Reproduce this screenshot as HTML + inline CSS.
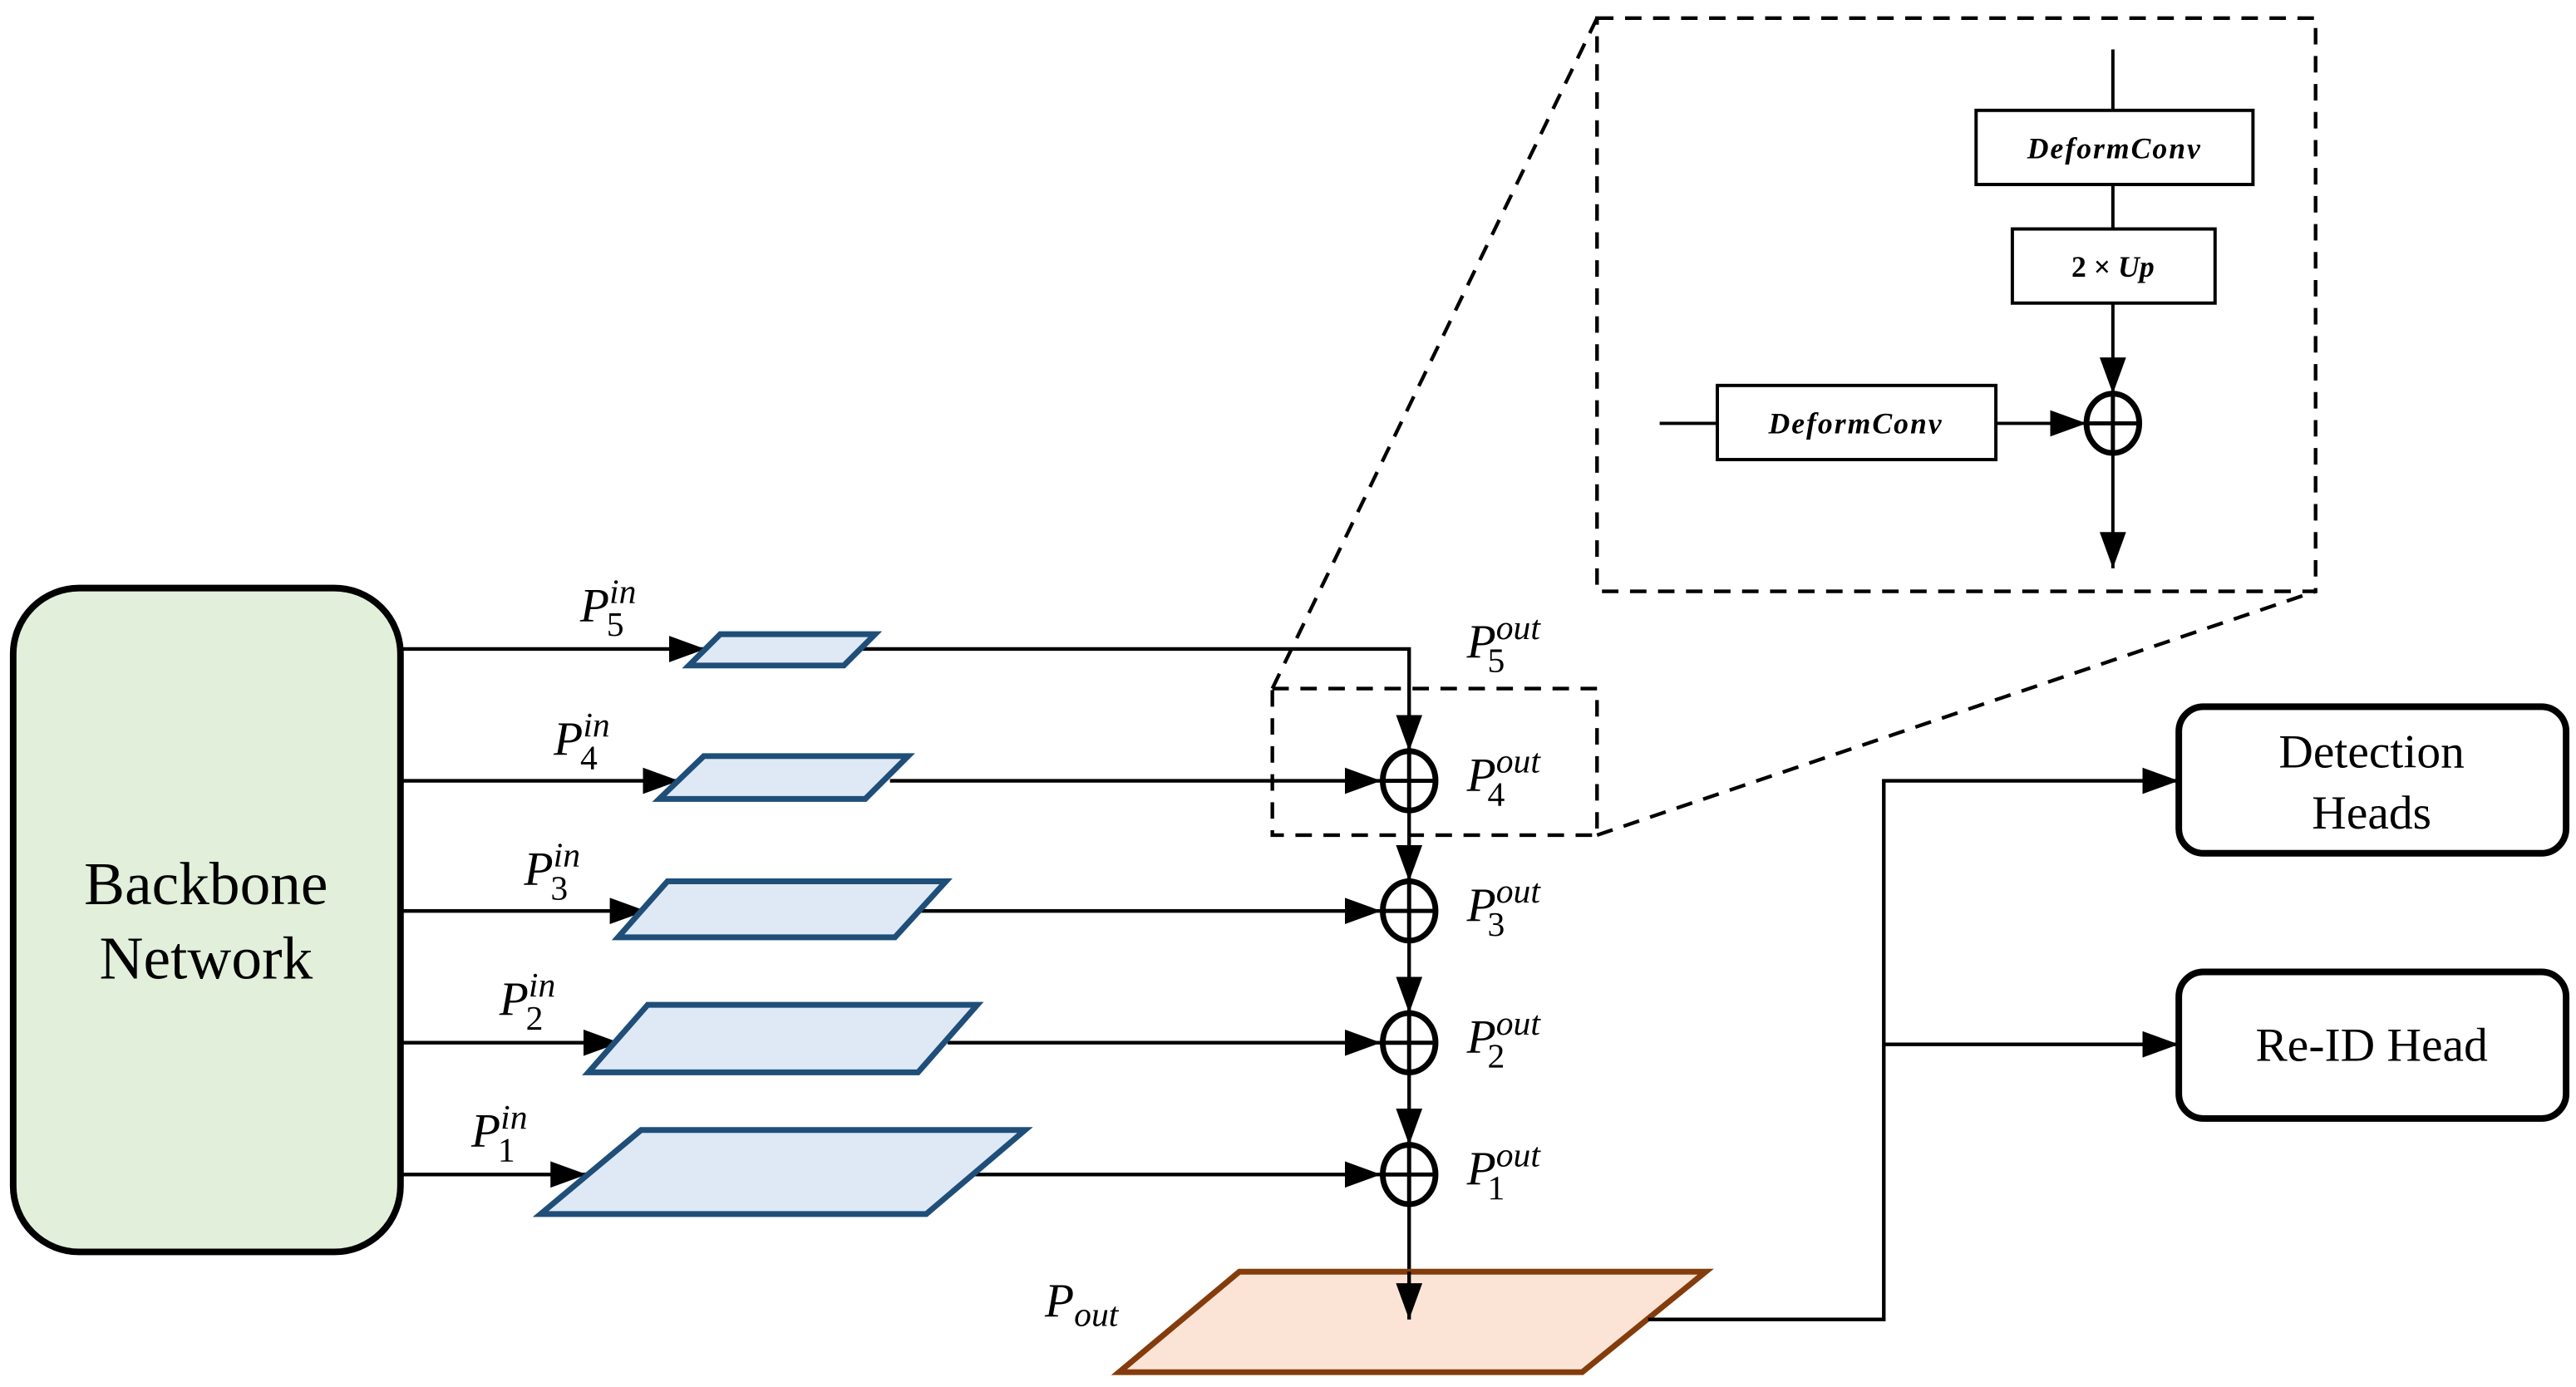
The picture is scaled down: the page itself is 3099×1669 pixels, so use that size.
<!DOCTYPE html>
<html><head><meta charset="utf-8"><style>
html,body{margin:0;padding:0;background:#fff;}
svg{display:block;}
</style></head><body>
<svg width="3099" height="1669" viewBox="0 0 1563 842" preserveAspectRatio="none" xmlns="http://www.w3.org/2000/svg">
<defs>
<marker id="b" markerWidth="22" markerHeight="16" refX="22" refY="8" orient="auto" markerUnits="userSpaceOnUse"><path d="M0,0 L22,8 L0,16 Z" fill="#000"/></marker>
</defs>
<rect width="1563" height="842" fill="#fff"/>
<rect x="8" y="357" width="235" height="403" rx="40" fill="#e2efda" stroke="#000" stroke-width="4"/>
<g font-family="'Liberation Serif', 'DejaVu Serif', serif">
<text x="125" y="549" font-size="37" text-anchor="middle">Backbone</text>
<text x="125" y="594" font-size="37" text-anchor="middle">Network</text>
</g>
<g stroke="#000" stroke-width="2.2" fill="none">
<line x1="243" y1="394" x2="428" y2="394" marker-end="url(#b)"/>
<line x1="243" y1="474" x2="412" y2="474" marker-end="url(#b)"/>
<line x1="243" y1="553" x2="392" y2="553" marker-end="url(#b)"/>
<line x1="243" y1="633" x2="376" y2="633" marker-end="url(#b)"/>
<line x1="243" y1="713" x2="356" y2="713" marker-end="url(#b)"/>
<polyline points="520,394 855,394 855,456" marker-end="url(#b)"/>
<line x1="540" y1="474" x2="838" y2="474" marker-end="url(#b)"/>
<line x1="558" y1="553" x2="838" y2="553" marker-end="url(#b)"/>
<line x1="575" y1="633" x2="838" y2="633" marker-end="url(#b)"/>
<line x1="590" y1="713" x2="838" y2="713" marker-end="url(#b)"/>
<line x1="855" y1="492" x2="855" y2="535" marker-end="url(#b)"/>
<line x1="855" y1="571" x2="855" y2="615" marker-end="url(#b)"/>
<line x1="855" y1="651" x2="855" y2="695" marker-end="url(#b)"/>
<line x1="855" y1="731" x2="855" y2="801" marker-end="url(#b)"/>
</g>
<g fill="#dee9f5" stroke="#1f4e79" stroke-width="3.5">
<polygon points="437,385 531,385 512,404 418,404"/>
<polygon points="427,459 551,459 525,485 400,485"/>
<polygon points="405,535 574,535 543,569 375,569"/>
<polygon points="393,610 593,610 557,651 357,651"/>
<polygon points="389,686 622,686 562,737 328,737"/>
</g>
<polygon points="752,772 1035,772 960,833 679,833" fill="#fbe4d6" stroke="#843c0c" stroke-width="3.5"/>
<line x1="855" y1="772" x2="855" y2="801" stroke="#000" stroke-width="2.2" marker-end="url(#b)"/>
<g stroke="#000" stroke-width="3.5" fill="#fff">
<ellipse cx="855" cy="474" rx="16" ry="18"/>
<ellipse cx="855" cy="553" rx="16" ry="18"/>
<ellipse cx="855" cy="633" rx="16" ry="18"/>
<ellipse cx="855" cy="713" rx="16" ry="18"/>
<ellipse cx="1282" cy="257" rx="16" ry="18"/>
</g>
<g stroke="#000" stroke-width="2.5">
<line x1="839" y1="474" x2="871" y2="474"/><line x1="855" y1="456" x2="855" y2="492"/>
<line x1="839" y1="553" x2="871" y2="553"/><line x1="855" y1="535" x2="855" y2="571"/>
<line x1="839" y1="633" x2="871" y2="633"/><line x1="855" y1="615" x2="855" y2="651"/>
<line x1="839" y1="713" x2="871" y2="713"/><line x1="855" y1="695" x2="855" y2="731"/>
<line x1="1266" y1="257" x2="1298" y2="257"/><line x1="1282" y1="239" x2="1282" y2="275"/>
</g>
<g stroke="#000" stroke-width="2.2" fill="none">
<polyline points="1000,801 1143,801 1143,474 1322,474" marker-end="url(#b)"/>
<line x1="1143" y1="634" x2="1322" y2="634" marker-end="url(#b)"/>
</g>
<rect x="1322" y="429" width="235" height="89" rx="15" fill="#fff" stroke="#000" stroke-width="4"/>
<rect x="1322" y="590" width="235" height="89" rx="15" fill="#fff" stroke="#000" stroke-width="4"/>
<g font-family="'Liberation Serif', 'DejaVu Serif', serif">
<text x="1439" y="466" font-size="29" text-anchor="middle">Detection</text>
<text x="1439" y="503" font-size="29" text-anchor="middle">Heads</text>
<text x="1439" y="644" font-size="29" text-anchor="middle">Re-ID Head</text>
</g>
<g stroke="#000" stroke-width="2.2" fill="none" stroke-dasharray="10,7">
<rect x="772" y="418" width="197" height="89"/>
<rect x="969" y="11" width="436" height="348"/>
<line x1="772" y1="418" x2="969" y2="11"/>
<line x1="969" y1="507" x2="1405" y2="359"/>
</g>
<g stroke="#000" stroke-width="2" fill="none">
<line x1="1282" y1="30" x2="1282" y2="67"/>
<rect x="1199" y="67" width="168" height="45" fill="#fff"/>
<line x1="1282" y1="112" x2="1282" y2="139"/>
<rect x="1221" y="139" width="123" height="45" fill="#fff"/>
<line x1="1282" y1="184" x2="1282" y2="239" marker-end="url(#b)"/>
<line x1="1007" y1="257" x2="1042" y2="257"/>
<rect x="1042" y="234" width="169" height="45" fill="#fff"/>
<line x1="1211" y1="257" x2="1266" y2="257" marker-end="url(#b)"/>
<line x1="1282" y1="275" x2="1282" y2="345" marker-end="url(#b)"/>
</g>
<g font-family="'Liberation Serif', 'DejaVu Serif', serif" font-style="italic" font-weight="bold" font-size="18" text-anchor="middle">
<text x="1283" y="96" letter-spacing="1">DeformConv</text>
<text x="1282" y="168"><tspan font-style="normal">2 × </tspan>Up</text>
<text x="1126" y="263" letter-spacing="1">DeformConv</text>
</g>
<g font-family="'Liberation Serif', 'DejaVu Serif', serif" font-style="italic" font-size="29">
<text x="352" y="377">P<tspan font-size="21" dy="-11">in</tspan><tspan font-size="21" font-style="normal" dx="-18" dy="20">5</tspan></text>
<text x="336" y="458">P<tspan font-size="21" dy="-11">in</tspan><tspan font-size="21" font-style="normal" dx="-18" dy="20">4</tspan></text>
<text x="318" y="537">P<tspan font-size="21" dy="-11">in</tspan><tspan font-size="21" font-style="normal" dx="-18" dy="20">3</tspan></text>
<text x="303" y="616">P<tspan font-size="21" dy="-11">in</tspan><tspan font-size="21" font-style="normal" dx="-18" dy="20">2</tspan></text>
<text x="286" y="696">P<tspan font-size="21" dy="-11">in</tspan><tspan font-size="21" font-style="normal" dx="-18" dy="20">1</tspan></text>
<text x="890" y="399">P<tspan font-size="21" dy="-11">out</tspan><tspan font-size="21" font-style="normal" dx="-32" dy="20">5</tspan></text>
<text x="890" y="480">P<tspan font-size="21" dy="-11">out</tspan><tspan font-size="21" font-style="normal" dx="-32" dy="20">4</tspan></text>
<text x="890" y="559">P<tspan font-size="21" dy="-11">out</tspan><tspan font-size="21" font-style="normal" dx="-32" dy="20">3</tspan></text>
<text x="890" y="639">P<tspan font-size="21" dy="-11">out</tspan><tspan font-size="21" font-style="normal" dx="-32" dy="20">2</tspan></text>
<text x="890" y="719">P<tspan font-size="21" dy="-11">out</tspan><tspan font-size="21" font-style="normal" dx="-32" dy="20">1</tspan></text>
<text x="634" y="799">P<tspan font-size="21" dy="6">out</tspan></text>
</g>
</svg>
</body></html>
